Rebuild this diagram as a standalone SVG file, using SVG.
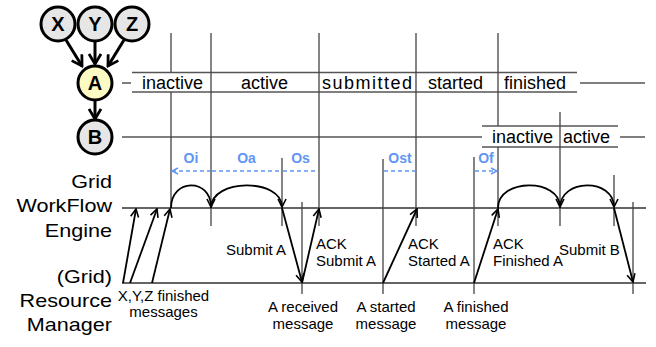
<svg xmlns="http://www.w3.org/2000/svg" width="656" height="347" viewBox="0 0 656 347">
<defs>
<style>
text{font-family:"Liberation Sans",Arial,sans-serif;fill:#000}
.nd circle{stroke:#000;stroke-width:3}
.nd text{font-size:20px;font-weight:bold;text-anchor:middle}
.st{font-size:18px}
.lb{font-size:15px}
.mid{text-anchor:middle}
.end{text-anchor:end}
.bt{font-size:14px;font-weight:bold;fill:#5f95f5;text-anchor:middle}
.hl{stroke:#555;stroke-width:1.4;fill:none}
.vl{stroke:#444;stroke-width:1.3;fill:none}
.tl{stroke:#333;stroke-width:1.5;fill:none}
.dag{stroke:#000;stroke-width:3;fill:none;marker-end:url(#big)}
.msg{stroke:#000;stroke-width:1.8;fill:none;marker-end:url(#sm)}
.ov{stroke:#5f95f5;stroke-width:1.4;stroke-dasharray:4 3;fill:none;marker-start:url(#bl);marker-end:url(#bl)}
</style>
<marker id="big" viewBox="0 0 14 14" refX="12" refY="7" markerWidth="14" markerHeight="14" orient="auto" markerUnits="userSpaceOnUse"><path d="M2,1 L12,7 L2,13" fill="none" stroke="#000" stroke-width="2.8"/></marker>
<marker id="sm" viewBox="0 0 10 10" refX="9" refY="5" markerWidth="10" markerHeight="10" orient="auto" markerUnits="userSpaceOnUse"><path d="M1,1 L9,5 L1,9" fill="none" stroke="#000" stroke-width="1.6"/></marker>
<marker id="bl" viewBox="0 0 8 8" refX="7" refY="4" markerWidth="8" markerHeight="8" orient="auto-start-reverse" markerUnits="userSpaceOnUse"><path d="M1,1 L7,4 L1,7" fill="none" stroke="#5f95f5" stroke-width="1.4"/></marker>
</defs>

<!-- left labels -->
<g transform="translate(112,0) scale(1.2,1)" class="st">
<text x="0" y="188" class="end">Grid</text>
<text x="0" y="212.5" class="end">WorkFlow</text>
<text x="0" y="237" class="end">Engine</text>
<text x="0" y="283" class="end">(Grid)</text>
<text x="0" y="307" class="end">Resource</text>
<text x="0" y="331" class="end">Manager</text>
</g>

<!-- state rows -->
<g id="state-rows">
<path class="hl" d="M132,72.5H577M132,92H577M122,83H131M580,83H645"/>
<path class="hl" d="M122,137H482M482,126H618M482,147H618M620,137H645"/>
<text class="st" x="142" y="89">inactive</text>
<text class="st" x="241" y="89">active</text>
<text class="st" x="322" y="89" letter-spacing="1.5">submitted</text>
<text class="st" x="428" y="89">started</text>
<text class="st" x="504" y="89">finished</text>
<text class="st" x="492" y="143">inactive</text>
<text class="st" x="563" y="143">active</text>
</g>

<!-- timeline lines -->
<g id="timelines">
<path class="tl" d="M122,208H646M122,283H646"/>
<path class="vl" d="M171,33V72.5M171,92V208M211,33V226M282,158V226M302,202V294M319,33V226M383,159V294M416,33V226M474,157V294M498,33V126M498,147V226M560,112V226M614,175V226M633,202V294"/>
</g>

<!-- overhead intervals -->
<g id="overheads">
<path class="ov" d="M172,171H210M212,171H281M283,171H318M384,171H416M475,171H497"/>
<text class="bt" x="191" y="163">Oi</text>
<text class="bt" x="246.5" y="163">Oa</text>
<text class="bt" x="300.5" y="163">Os</text>
<text class="bt" x="400" y="163">Ost</text>
<text class="bt" x="486" y="163">Of</text>
</g>

<!-- DAG nodes -->
<g id="node-X" class="nd"><circle cx="58" cy="24" r="17" fill="#e6e6e6"/><text x="58" y="31">X</text></g>
<g id="node-Y" class="nd"><circle cx="95" cy="24" r="17" fill="#e6e6e6"/><text x="95" y="31">Y</text></g>
<g id="node-Z" class="nd"><circle cx="132" cy="24" r="17" fill="#e6e6e6"/><text x="132" y="31">Z</text></g>
<g id="node-A" class="nd"><circle cx="95" cy="83" r="17" fill="#fdfbc4"/><text x="95" y="90">A</text></g>
<g id="node-B" class="nd"><circle cx="95" cy="137" r="17" fill="#e6e6e6"/><text x="95" y="144">B</text></g>

<!-- connectors -->
<g id="connectors">
<path class="dag" d="M66,40L82,66"/>
<path class="dag" d="M95,42V64"/>
<path class="dag" d="M124,40L108,66"/>
<path class="dag" d="M95,101V119"/>
<path class="msg" d="M123,283L136,209"/>
<path class="msg" d="M130,283L157,209"/>
<path class="msg" d="M152,283L170,209"/>
<path class="msg" d="M171,208C171,178 211,178 211,207"/>
<path class="msg" d="M211,208C211,178 282,178 282,207"/>
<path class="msg" d="M282,208L302,282"/>
<path class="msg" d="M302,283L319,209"/>
<path class="msg" d="M383,283L417,209"/>
<path class="msg" d="M474,283L498,209"/>
<path class="msg" d="M498,208C498,178 560,178 560,207"/>
<path class="msg" d="M560,208C560,178 614,178 614,207"/>
<path class="msg" d="M614,208L633,282"/>
</g>

<!-- message labels -->
<g id="labels" class="lb">
<text class="lb end" x="286" y="255">Submit A</text>
<text class="lb" x="316" y="249">ACK</text>
<text class="lb" x="316" y="266">Submit A</text>
<text class="lb" x="408" y="249">ACK</text>
<text class="lb" x="408" y="266">Started A</text>
<text class="lb" x="493" y="249">ACK</text>
<text class="lb" x="493" y="266">Finished A</text>
<text class="lb" x="559" y="255">Submit B</text>
<text class="lb mid" x="163.5" y="301">X,Y,Z finished</text>
<text class="lb mid" x="163.5" y="317">messages</text>
<text class="lb mid" x="303" y="312">A received</text>
<text class="lb mid" x="303" y="329">message</text>
<text class="lb mid" x="386" y="312">A started</text>
<text class="lb mid" x="386" y="329">message</text>
<text class="lb mid" x="476" y="312">A finished</text>
<text class="lb mid" x="476" y="329">message</text>
</g>
</svg>
